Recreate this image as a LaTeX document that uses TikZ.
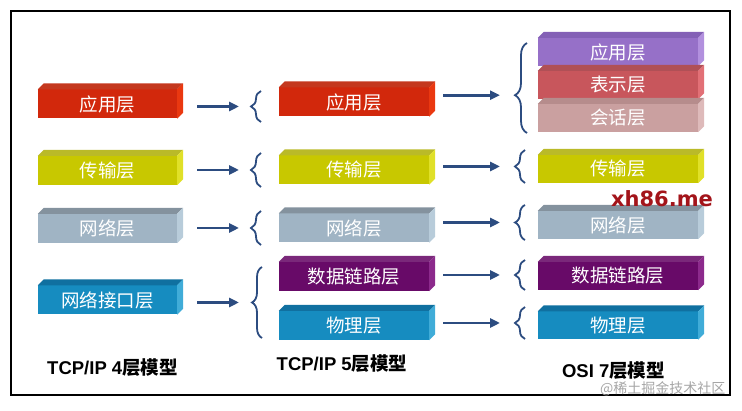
\documentclass[tikz,border=0pt]{standalone}
\usepackage{fontspec}
\setmainfont{Liberation Sans}
\newfontfamily\cjk{Noto Sans CJK SC}
\newfontfamily\markfont{DejaVu Sans}
\usetikzlibrary{arrows.meta,decorations.pathreplacing}

\definecolor{arrblue}{RGB}{44,76,128}
\definecolor{appF}{RGB}{210,40,12}   \definecolor{appT}{RGB}{196,56,30}   \definecolor{appS}{RGB}{234,56,16}
\definecolor{traF}{RGB}{200,200,0}   \definecolor{traT}{RGB}{186,186,40}  \definecolor{traS}{RGB}{224,224,40}
\definecolor{netF}{RGB}{160,180,196} \definecolor{netT}{RGB}{132,146,158} \definecolor{netS}{RGB}{184,204,218}
\definecolor{phyF}{RGB}{22,140,192}  \definecolor{phyT}{RGB}{16,112,160}  \definecolor{phyS}{RGB}{64,172,216}
\definecolor{dllF}{RGB}{104,10,104}  \definecolor{dllT}{RGB}{122,40,122}  \definecolor{dllS}{RGB}{140,42,140}
\definecolor{osaF}{RGB}{150,112,200} \definecolor{osaT}{RGB}{132,96,182}  \definecolor{osaS}{RGB}{178,144,222}
\definecolor{preF}{RGB}{200,86,92}   \definecolor{preT}{RGB}{176,80,86}   \definecolor{preS}{RGB}{226,112,118}
\definecolor{sesF}{RGB}{202,160,160} \definecolor{sesT}{RGB}{182,140,140} \definecolor{sesS}{RGB}{222,186,186}
\definecolor{markred}{RGB}{163,20,26}

%% top face and right side of a layer box
\newcommand{\extrude}[3]{%
  \fill[#2] (#1.north west) -- ++(6,-6) -- ([shift={(6,-6)}]#1.north east) -- (#1.north east) -- cycle;
  \fill[#3] (#1.north east) -- ([shift={(6,-6)}]#1.north east)
            -- ([shift={(6,-6)}]#1.south east) -- (#1.south east) -- cycle;}

\begin{document}
\begin{tikzpicture}[x=1pt,y=-1pt,
  box/.style={rectangle,inner sep=0pt,minimum height=29pt,text=white,
              font=\cjk\fontsize{18.5}{18.5}\selectfont},
  col1/.style={box,minimum width=139pt},
  col2/.style={box,minimum width=150pt},
  col3/.style={box,minimum width=160pt},
  arr/.style={draw=arrblue,line width=2.8pt,-{Triangle[length=10pt,width=9pt]}},
  brace/.style={draw=arrblue,line width=1.8pt,decorate,
                decoration={brace,amplitude=10pt}},
  model/.style={font=\bfseries\fontsize{18.5}{18.5}\selectfont}]
\useasboundingbox (0,0) rectangle (742,411);
\draw[line width=1.5pt] (11,11) rectangle (730,395);
%%
%% TCP/IP 4 layers
\node[col1,fill=appF](c1app) at (107.5,104)   {应用层};   \extrude{c1app}{appT}{appS}
\node[col1,fill=traF](c1tra) at (107.5,170.5) {传输层};   \extrude{c1tra}{traT}{traS}
\node[col1,fill=netF](c1net) at (107.5,228.5) {网络层};   \extrude{c1net}{netT}{netS}
\node[col1,fill=phyF](c1nif) at (107.5,300)   {网络接口层}; \extrude{c1nif}{phyT}{phyS}
%%
%% TCP/IP 5 layers
\node[col2,fill=appF](c2app) at (354,102)   {应用层};   \extrude{c2app}{appT}{appS}
\node[col2,fill=traF](c2tra) at (354,170)   {传输层};   \extrude{c2tra}{traT}{traS}
\node[col2,fill=netF](c2net) at (354,228)   {网络层};   \extrude{c2net}{netT}{netS}
\node[col2,fill=dllF](c2dll) at (354,276.5) {数据链路层}; \extrude{c2dll}{dllT}{dllS}
\node[col2,fill=phyF](c2phy) at (354,325.5) {物理层};   \extrude{c2phy}{phyT}{phyS}
%%
%% OSI 7 layers
\node[col3,fill=osaF,minimum height=28pt](c3app) at (618,52) {应用层}; \extrude{c3app}{osaT}{osaS}
\node[col3,fill=preF,minimum height=28pt](c3pre) at (618,85) {表示层}; \extrude{c3pre}{preT}{preS}
\node[col3,fill=sesF,minimum height=28pt](c3ses) at (618,118) {会话层}; \extrude{c3ses}{sesT}{sesS}
\node[col3,fill=traF,minimum height=28pt](c3tra) at (618,169)   {传输层};   \extrude{c3tra}{traT}{traS}
\node[col3,fill=netF,minimum height=28pt](c3net) at (618,225)   {网络层};   \extrude{c3net}{netT}{netS}
\node[col3,fill=dllF,minimum height=28pt](c3dll) at (618,276)   {数据链路层}; \extrude{c3dll}{dllT}{dllS}
\node[col3,fill=phyF,minimum height=28pt](c3phy) at (618,325.5) {物理层};   \extrude{c3phy}{phyT}{phyS}
%%
%% Braces in front of column 2
\draw[brace] (261,122) -- coordinate[midway](t2app) (261,91);
\draw[brace] (261,187) -- coordinate[midway](t2tra) (261,153);
\draw[brace] (261,245) -- coordinate[midway](t2net) (261,211);
\draw[brace] (262,338) -- coordinate[midway](t2low) (262,267);
%%
%% Braces in front of column 3
\draw[brace,decoration={amplitude=12pt,aspect=0.42}] (527,133) -- coordinate[pos=0.42](t3app) (527,43);
\draw[brace] (525,183) -- coordinate[midway](t3tra) (525,150);
\draw[brace] (525,240) -- coordinate[midway](t3net) (525,205);
\draw[brace] (525,290) -- coordinate[midway](t3dll) (525,260);
\draw[brace] (525,339) -- coordinate[midway](t3phy) (525,307);
%%
%% Arrows 4 -> 5
\draw[arr,shorten <=20pt,shorten >=22pt] (c1app.east |- t2app) -- (t2app);
\draw[arr,shorten <=20pt,shorten >=22pt] (c1tra.east |- t2tra) -- (t2tra);
\draw[arr,shorten <=20pt,shorten >=22pt] (c1net.east |- t2net) -- (t2net);
\draw[arr,shorten <=20pt,shorten >=23pt] (c1nif.east |- t2low) -- (t2low);
%%
%% Arrows 5 -> 7
\draw[arr,shorten <=14pt,shorten >=27pt] (c2app.east |- t3app) -- (t3app);
\draw[arr,shorten <=14pt,shorten >=25pt] (c2tra.east |- t3tra) -- (t3tra);
\draw[arr,shorten <=14pt,shorten >=25pt] (c2net.east |- t3net) -- (t3net);
\draw[arr,shorten <=14pt,shorten >=25pt] (c2dll.east |- t3dll) -- (t3dll);
\draw[arr,shorten <=14pt,shorten >=25pt] (c2phy.east |- t3phy) -- (t3phy);
%%
%% Model names
\node[model](m4)  at (112.5,368) {TCP/IP 4{\cjk 层模型}};
\node[model](m5)  at (342,364)   {TCP/IP 5{\cjk 层模型}};
\node[model](m7)  at (613.5,371) {OSI 7{\cjk 层模型}};
%%
%% Watermarks
\node[font=\markfont\bfseries\fontsize{21}{21}\selectfont,text=markred](mark) at (662,199) {xh86.me};
\node[anchor=east,font=\cjk\fontsize{14}{14}\selectfont,text=black!35](src) at (729,389) {@稀土掘金技术社区};
\end{tikzpicture}
\end{document}
